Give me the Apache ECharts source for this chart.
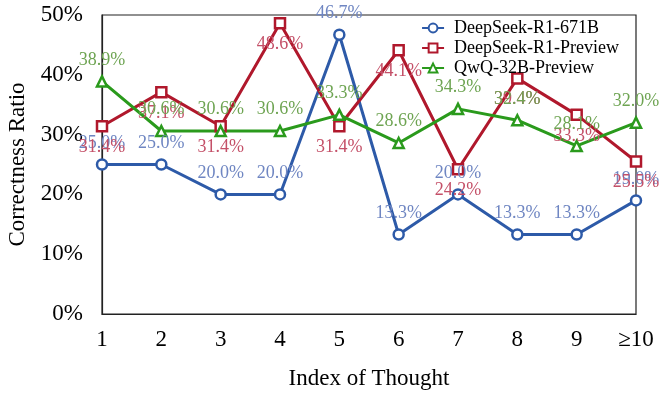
<!DOCTYPE html>
<html>
<head>
<meta charset="utf-8">
<script src="https://cdn.jsdelivr.net/npm/echarts@6/dist/echarts.min.js"></script>
<style>html,body{margin:0;padding:0;background:#fff}#c{width:660px;height:395px}</style>
</head>
<body>
<div id="c"></div>
<script>
const categories = ['1','2','3','4','5','6','7','8','9','\u226510'];
const seriesNames = ['DeepSeek-R1-671B','DeepSeek-R1-Preview','QwQ-32B-Preview'];
const r1_671b = [25.0, 25.0, 20.0, 20.0, 46.7, 13.3, 20.0, 13.3, 13.3, 19.0];
const r1_preview = [31.4, 37.1, 31.4, 48.6, 31.4, 44.1, 24.2, 39.4, 33.3, 25.5];
const qwq_32b = [38.9, 30.6, 30.6, 30.6, 33.3, 28.6, 34.3, 32.4, 28.1, 32.0];
const yTicks = [0, 10, 20, 30, 40, 50];

const FONT = '"Liberation Serif", "Times New Roman", serif';
const chart = echarts.init(document.getElementById('c'), null, {renderer: 'canvas'});

function mk(name, data, color, labelColor, symbol, pos) {
  return {
    name: name, type: 'line', data: data,
    symbol: symbol, symbolSize: 10,
    lineStyle: {color: color, width: 3},
    itemStyle: {color: '#fff', borderColor: color, borderWidth: 2.5},
    label: {
      show: true, position: pos, distance: 6,
      formatter: p => p.value.toFixed(1) + '%',
      color: labelColor, fontFamily: FONT, fontSize: 18
    },
    z: 2
  };
}

chart.setOption({
  animation: false,
  backgroundColor: '#fff',
  grid: {left: 102, right: 24, top: 15, bottom: 81, show: true, borderColor: '#222', borderWidth: 1.2, backgroundColor: 'transparent', containLabel: false, outerBoundsMode: 'none'},
  legend: {
    data: seriesNames, orient: 'vertical', right: 36, top: 14,
    itemWidth: 22, itemHeight: 11, itemGap: 2,
    textStyle: {fontFamily: FONT, fontSize: 18, color: '#000', padding: [0, 0, 0, 5]}
  },
  xAxis: {
    type: 'category', data: categories, boundaryGap: false,
    name: 'Index of Thought', nameLocation: 'middle', nameGap: 53,
    nameTextStyle: {fontFamily: FONT, fontSize: 23, color: '#000'},
    axisLine: {show: true, lineStyle: {color: '#222', width: 1.2}},
    axisTick: {show: false},
    axisLabel: {fontFamily: FONT, fontSize: 23, color: '#000', margin: 14},
    splitLine: {show: false}
  },
  yAxis: {
    type: 'value', min: 0, max: 50, interval: 10,
    name: 'Correctness Ratio', nameLocation: 'middle', nameGap: 71,
    nameTextStyle: {fontFamily: FONT, fontSize: 23, color: '#000'},
    axisLine: {show: true, lineStyle: {color: '#222', width: 1.2}},
    axisTick: {show: false},
    axisLabel: {fontFamily: FONT, fontSize: 23, color: '#000', margin: 19,
      formatter: v => yTicks.includes(v) ? v + '%' : ''},
    splitLine: {show: false}
  },
  series: [
    mk(seriesNames[0], r1_671b, '#2d5aa8', '#6f86c2', 'circle', 'top'),
    mk(seriesNames[1], r1_preview, '#b0182c', '#c45068', 'rect', 'bottom'),
    mk(seriesNames[2], qwq_32b, '#2a9a1c', '#6ea452', 'triangle', 'top')
  ]
});
</script>
</body>
</html>
